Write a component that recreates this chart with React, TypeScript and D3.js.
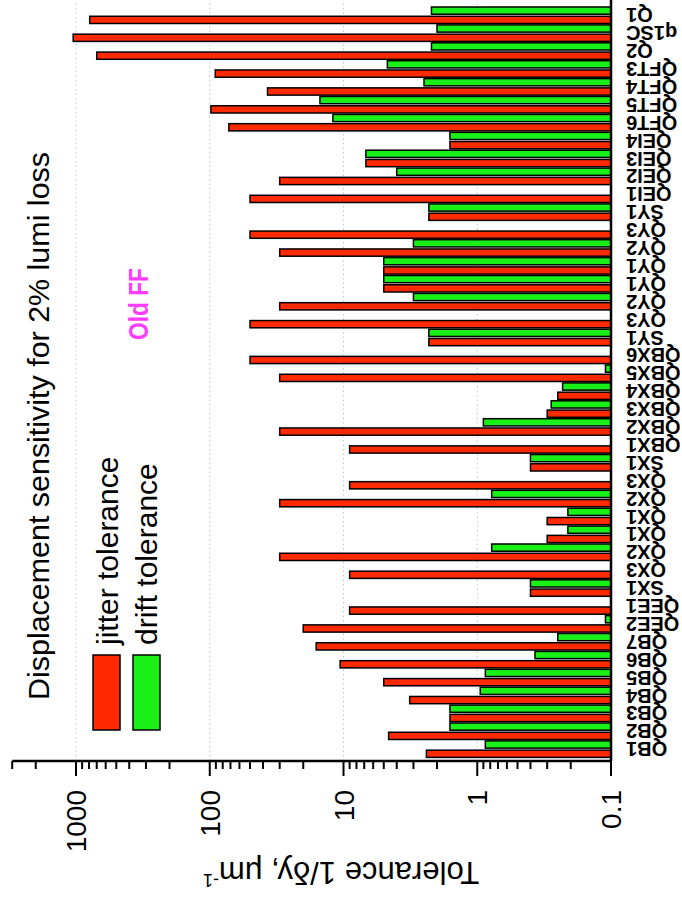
import React from "react";
import * as d3 from "d3";

// Magnets along the beamline, in beam order
const magnets = [
  "QB1", "QB2", "QB3", "QB4", "QB5", "QB6", "QB7", "QEE2", "QEE1", "SX1",
  "QX3", "QX2", "QX1", "QX1", "QX2", "QX3", "SX1", "QBX1", "QBX2", "QBX3",
  "QBX4", "QBX5", "QBX6", "SY1", "QY3", "QY2", "QY1", "QY1", "QY2", "QY3",
  "SY1", "QEI1", "QEI2", "QEI3", "QEI4", "QFT6", "QFT5", "QFT4", "QFT3", "Q2",
  "q1SC", "Q1",
];

// Jitter tolerance 1/δy, µm^-1
const jitter = [
  2.4, 4.6, 1.6, 3.2, 5.0, 10.6, 16, 20, 9, 0.4,
  9, 30, 0.3, 0.3, 30, 9, 0.4, 9, 30, 0.3,
  0.25, 30, 50, 2.3, 50, 30, 5.0, 5.0, 30, 50,
  2.3, 50, 30, 6.8, 1.6, 72, 98, 37, 91, 700,
  1050, 790,
];

// Drift tolerance 1/δy, µm^-1 (null: below the axis floor)
const drift: (number | null)[] = [
  0.87, 1.6, 1.6, 0.95, 0.87, 0.37, 0.25, 0.11, null, 0.4,
  null, 0.78, 0.21, 0.21, 0.78, null, 0.4, null, 0.9, 0.28,
  0.23, 0.11, null, 2.3, null, 3.0, 5.0, 5.0, 3.0, null,
  2.3, null, 4.0, 6.8, 1.6, 12, 15, 2.5, 4.7, 2.2,
  2.0, 2.2,
];

const series = ["jitter tolerance", "drift tolerance"];
const seriesColors = ["#ff2a00", "#18f018"];
const majorTicks = [0.1, 1, 10, 100, 1000];
const majorLabels = ["0.1", "1", "10", "100", "1000"];

// The chart is laid out as a landscape frame and turned a quarter turn
const FRAME_W = 904;
const PAGE_W = 682;
const PAGE_H = 904;
const FONT = "'Liberation Sans', Arial, Helvetica, sans-serif";

export default function App() {
  const axisX = 143; // position of the value axis inside the frame
  const baseY = 611; // 0.1 level

  const x = d3
    .scaleBand<number>()
    .domain(d3.range(magnets.length))
    .range([145.6, 897.4])
    .paddingInner(0)
    .paddingOuter(0);

  const inner = d3
    .scaleBand<number>()
    .domain([0, 1])
    .range([1, x.bandwidth() - 0.4])
    .paddingInner(0.22);

  const y = d3.scaleLog().domain([0.1, 3000]).range([baseY, 12.2]);

  const allTicks = y.ticks();
  const isMajor = (v: number) => Math.abs(Math.log10(v) - Math.round(Math.log10(v))) < 1e-6;

  const rows = [jitter, drift];

  return (
    <svg
      width={PAGE_W}
      height={PAGE_H}
      style={{ position: "absolute", left: 0, top: 0, background: "#fff" }}
      fontFamily={FONT}
    >
      <rect width={PAGE_W} height={PAGE_H} fill="#fff" />
      <g transform={`translate(0,${FRAME_W}) rotate(-90)`}>
        {/* dotted decade grid */}
        {majorTicks.slice(1).map((v) => (
          <line
            key={`g${v}`}
            x1={axisX}
            x2={FRAME_W}
            y1={y(v)}
            y2={y(v)}
            stroke="#c8c0d0"
            strokeWidth={1}
            strokeDasharray="1.5 3"
          />
        ))}

        {/* bars */}
        {magnets.map((m, i) => (
          <g key={`b${i}`} transform={`translate(${x(i)},0)`}>
            {rows.map((vals, s) => {
              const v = vals[i];
              if (v == null || v <= 0.1) return null;
              return (
                <rect
                  key={s}
                  x={inner(s)}
                  width={inner.bandwidth()}
                  y={y(v)}
                  height={baseY - y(v)}
                  fill={seriesColors[s]}
                  stroke="#000"
                  strokeWidth={1.5}
                />
              );
            })}
          </g>
        ))}

        {/* category axis */}
        <line x1={axisX} x2={FRAME_W} y1={baseY} y2={baseY} stroke="#000" strokeWidth={2.5} />
        {magnets.map((m, i) => (
          <text
            key={`c${i}`}
            transform={`translate(${(x(i) as number) + x.bandwidth() / 2},626) rotate(-90)`}
            textAnchor="end"
            dy="0.36em"
            fontSize={20}
            fontWeight="bold"
            fill="#000"
          >
            {m}
          </text>
        ))}

        {/* value axis */}
        <line x1={axisX} x2={axisX} y1={y(3000)} y2={baseY + 1} stroke="#000" strokeWidth={2.5} />
        {allTicks.map((v, k) => (
          <line
            key={`t${k}`}
            x1={axisX}
            x2={axisX - (isMajor(v) ? 15 : 8)}
            y1={y(v)}
            y2={y(v)}
            stroke="#000"
            strokeWidth={2}
          />
        ))}
        {majorTicks.map((v, k) => (
          <text key={`l${k}`} x={114} y={y(v)} dy="0.36em" textAnchor="end" fontSize={28} fill="#000">
            {majorLabels[k]}
          </text>
        ))}
        <text transform={`translate(42,341) rotate(-90)`} textAnchor="middle" fontSize={31} fill="#000">
          Tolerance 1/δy, μm
          <tspan fontSize={18} dy={-12}>-1</tspan>
        </text>

        {/* title and annotation */}
        <text x={478} y={49} textAnchor="middle" fontSize={30} textLength={548} lengthAdjust="spacingAndGlyphs" fill="#000">
          Displacement sensitivity for 2% lumi loss
        </text>
        <text x={600} y={148} textAnchor="middle" fontSize={28} fontWeight="bold" fill="#ff3cff" textLength={72} lengthAdjust="spacingAndGlyphs">
          Old FF
        </text>

        {/* legend */}
        {series.map((name, s) => (
          <g key={`lg${s}`}>
            <rect x={174} y={93 + s * 40} width={75} height={27} fill={seriesColors[s]} stroke="#000" strokeWidth={1.5} />
            <text x={259} y={118 + s * 39} fontSize={30} fill="#000">
              {name}
            </text>
          </g>
        ))}
      </g>
    </svg>
  );
}
